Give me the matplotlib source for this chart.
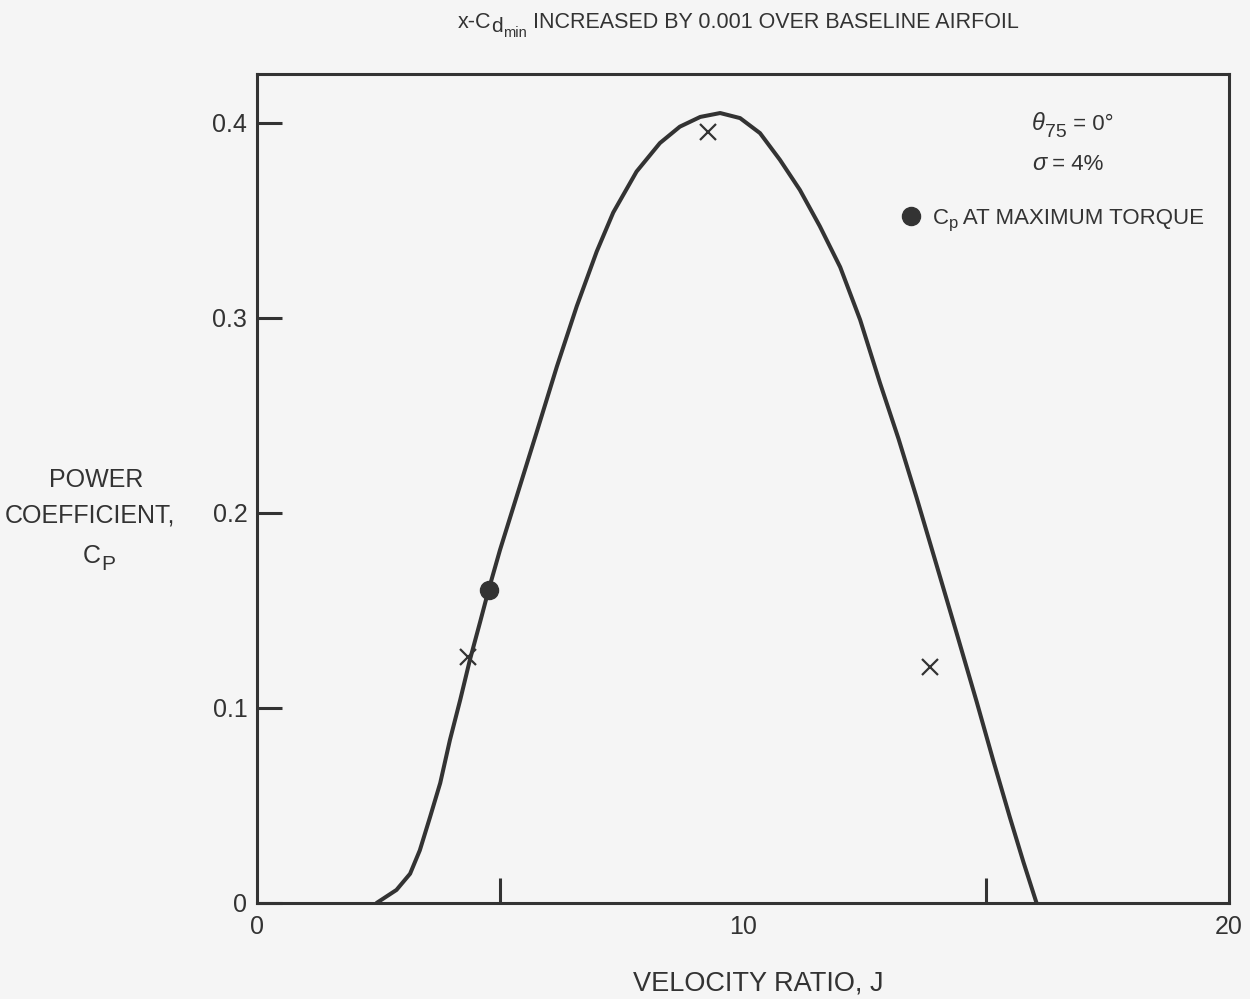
import matplotlib.pyplot as plt
import numpy as np

plt.rcParams['font.family'] = ['Liberation Sans', 'DejaVu Sans']

# curve
J = [2.46, 2.87, 3.15, 3.35, 3.56, 3.77, 3.97, 4.18, 4.38, 4.59, 4.76,
     5.0, 5.3, 5.75, 6.17, 6.58, 6.99, 7.33, 7.81, 8.29, 8.70, 9.12, 9.53,
     9.94, 10.35, 10.76, 11.17, 11.58, 12.0, 12.41, 12.82, 13.2, 13.57,
     13.98, 14.4, 14.81, 15.15, 15.49, 15.77, 16.04]
Cp = [0.0, 0.0067, 0.015, 0.027, 0.044, 0.0615, 0.0836, 0.104, 0.1246,
      0.144, 0.160, 0.181, 0.205, 0.241, 0.275, 0.306, 0.334, 0.354,
      0.375, 0.3896, 0.398, 0.403, 0.405, 0.4024, 0.3947, 0.381, 0.3656,
      0.347, 0.326, 0.299, 0.2665, 0.238, 0.208, 0.1735, 0.138, 0.103,
      0.073, 0.044, 0.021, 0.0]

# crosses and max torque point
x_J = [4.35, 9.29, 13.85]
x_Cp = [0.126, 0.3955, 0.121]
torque_J = [4.78]
torque_Cp = [0.1605]

ink = '#333333'
paper = '#f5f5f5'
W, H = 1250, 999

fig = plt.figure(figsize=(12.5, 9.99), dpi=100, facecolor=paper)
ax = fig.add_axes([0.2056, 0.0961, 0.7776, 0.8298])
ax.set_facecolor(paper)
renderer = fig.canvas.get_renderer()


def chain(x, y, parts):
    # write text pieces one after another, in pixels from the top left;
    # each piece: (text, size, drop below baseline, style)
    for s, size, dy, style in parts:
        t = fig.text(x / W, 1 - (y + dy) / H, s, fontsize=size, color=ink,
                     style=style, ha='left', va='baseline')
        x += t.get_window_extent(renderer).width


ax.plot(J, Cp, color=ink, lw=2.9, solid_capstyle='round', solid_joinstyle='round')
ax.plot(x_J, x_Cp, 'x', color=ink, ms=12, mew=1.6)
ax.plot(torque_J, torque_Cp, 'o', color=ink, ms=13)

ax.set_xlim(0, 20)
ax.set_ylim(0, 0.425)

for s in ax.spines.values():
    s.set_linewidth(2.2)
    s.set_color(ink)

ax.set_xticks([0, 10, 20])
ax.set_xticklabels(['0', '10', '20'])
ax.set_xticks([5, 15], minor=True)
ax.tick_params(axis='x', which='major', length=0, pad=9, labelsize=18, labelcolor=ink)
ax.tick_params(axis='x', which='minor', direction='in', length=18, width=2.2, color=ink)
ax.set_yticks([0, 0.1, 0.2, 0.3, 0.4])
ax.set_yticklabels(['0', '0.1', '0.2', '0.3', '0.4'])
ax.tick_params(axis='y', direction='in', length=18, width=2.2, color=ink,
               pad=7, labelsize=18, labelcolor=ink)

# title
chain(458, 28, [('x-C', 15.5, 0, 'normal'), ('d', 15, 4, 'normal'),
                ('min', 10.5, 9, 'normal'),
                (' INCREASED BY 0.001 OVER BASELINE AIRFOIL', 15.5, 0, 'normal')])

# axis labels
fig.text(0.6065, 0.016, 'VELOCITY RATIO, J', ha='center', va='center',
         fontsize=19.5, color=ink)
fig.text(96 / W, 1 - 487 / H, 'POWER', ha='center', va='baseline', fontsize=18, color=ink)
fig.text(90 / W, 1 - 522 / H, 'COEFFICIENT,', ha='center', va='baseline', fontsize=18, color=ink)
chain(83, 563, [('C', 18, 0, 'normal'), ('P', 15, 7, 'normal')])

# notes in the corner
chain(1032, 130, [('θ', 17, 0, 'italic'), ('75', 14, 7, 'normal'),
                  (' = 0°', 16, 0, 'normal')])
chain(1032, 170, [('σ', 17, 0, 'italic'), (' = 4%', 16, 0, 'normal')])
ax.plot([13.45], [0.352], 'o', color=ink, ms=13, clip_on=False)
chain(933, 224, [('C', 16, 0, 'normal'), ('p', 12, 4, 'normal'),
                 (' AT MAXIMUM TORQUE', 16, 0, 'normal')])

fig.savefig('out.png', dpi=100, facecolor=paper)
